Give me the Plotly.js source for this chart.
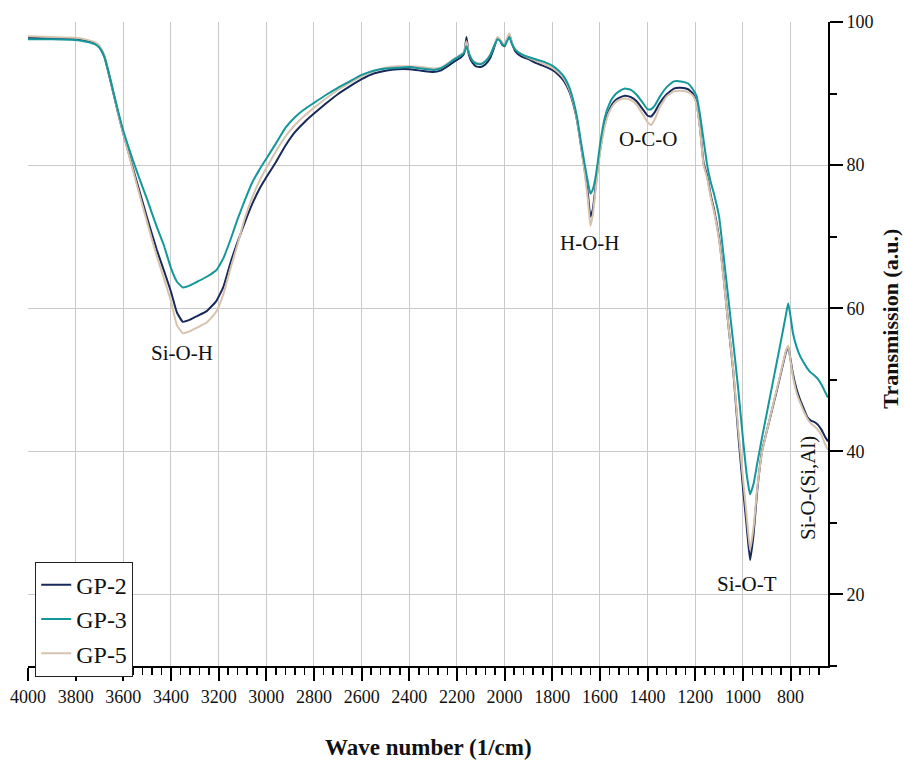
<!DOCTYPE html>
<html>
<head>
<meta charset="utf-8">
<script src="https://cdn.plot.ly/plotly-3.0.1.min.js"></script>
<style>
  html, body { margin: 0; padding: 0; background: #fff; }
  #chart { width: 904px; height: 761px; }
</style>
</head>
<body>
<div id="chart"></div>
<script>
// FTIR spectra of geopolymer samples: wavenumber (1/cm) vs transmission (a.u.)
const wavenumber = [
  4000, 3900, 3800, 3750, 3720, 3700, 3680, 3660, 3640, 3620, 3600, 3560, 3530, 3500,
  3460, 3430, 3400, 3375, 3350, 3320, 3290, 3250, 3210, 3180, 3150, 3120, 3090, 3060,
  3030, 3000, 2960, 2920, 2880, 2840, 2800, 2750, 2700, 2650, 2600, 2550, 2500, 2450,
  2400, 2350, 2300, 2270, 2240, 2210, 2185, 2170, 2160, 2150, 2135, 2120, 2100, 2080,
  2060, 2045, 2030, 2020, 2010, 2000, 1990, 1980, 1970, 1955, 1930, 1900, 1870, 1840,
  1800, 1770, 1750, 1730, 1710, 1695, 1680, 1665, 1650, 1640, 1630, 1620, 1610, 1600,
  1580, 1560, 1540, 1520, 1495, 1470, 1445, 1420, 1400, 1385, 1370, 1350, 1320, 1290,
  1260, 1230, 1210, 1195, 1180, 1165, 1150, 1135, 1120, 1100, 1080, 1060, 1040, 1020,
  1000, 985, 970, 955, 940, 920, 900, 880, 860, 840, 820, 810, 800, 790,
  775, 760, 745, 730, 715, 700, 685, 670, 655, 643
];

const gp2 = [
  97.8, 97.7, 97.6, 97.3, 97.0, 96.5, 95.2, 92.6, 89.8, 87.0, 84.4, 79.6, 76.1, 72.6,
  68.2, 65.3, 62.3, 59.4, 58.1, 58.4, 58.9, 59.6, 61.0, 63.0, 66.4, 69.3, 72.0, 74.5,
  76.6, 78.3, 80.4, 82.7, 84.6, 86.0, 87.2, 88.6, 89.9, 91.0, 92.0, 92.8, 93.2, 93.4,
  93.4, 93.2, 93.0, 93.2, 93.8, 94.5, 95.0, 95.6, 97.9, 95.4, 94.3, 93.8, 93.7, 94.1,
  95.0, 96.3, 97.8, 97.5, 96.8, 96.6, 97.5, 98.3, 97.1, 95.9, 95.2, 94.8, 94.3, 93.9,
  93.3, 92.5, 91.7, 90.4, 88.3, 86.0, 82.8, 79.5, 75.8, 72.8, 73.8, 76.5, 79.4, 82.0,
  85.7, 87.8, 88.9, 89.4, 89.7, 89.5, 88.9, 87.8, 86.9, 86.8, 87.4, 88.6, 89.9, 90.7,
  90.8, 90.6, 90.0, 88.7, 85.2, 80.3, 78.5, 75.8, 73.6, 69.8, 64.0, 57.3, 51.0, 42.5,
  35.0, 29.8, 24.8, 28.5, 34.5, 40.0, 42.8, 45.5, 48.2, 51.0, 53.8, 54.6, 52.8, 50.8,
  48.7, 47.2, 46.0, 44.8, 44.3, 44.1, 43.7, 43.0, 42.0, 41.4
];

const gp3 = [
  97.6, 97.6, 97.5, 97.2, 96.9, 96.4, 95.2, 92.8, 90.0, 87.3, 84.8, 80.7, 77.9, 75.2,
  71.4, 68.8, 65.6, 63.7, 62.9, 63.2, 63.7, 64.4, 65.3, 67.0, 69.6, 72.5, 75.1, 77.5,
  79.3, 80.9, 83.0, 85.2, 86.7, 87.8, 88.7, 89.8, 90.8, 91.7, 92.6, 93.2, 93.5, 93.6,
  93.7, 93.5, 93.3, 93.5, 94.1, 94.8, 95.3, 95.7, 96.6, 95.6, 94.6, 94.2, 94.1, 94.5,
  95.4, 96.6, 97.6, 97.4, 96.9, 96.7, 97.3, 97.9, 97.0, 96.1, 95.5, 95.1, 94.8, 94.5,
  93.9, 93.1, 92.3, 91.0, 88.8, 86.5, 83.3, 80.3, 77.5, 76.0, 76.6, 78.0, 80.2, 82.8,
  86.6, 88.6, 89.7, 90.3, 90.7, 90.5, 89.8, 88.7, 87.8, 87.8, 88.3, 89.5, 90.9, 91.7,
  91.7, 91.4, 90.6, 89.7, 87.0, 83.5, 80.0, 77.6, 75.8, 72.8, 67.0, 61.0, 55.0, 48.8,
  41.8, 37.0, 34.0, 35.5, 38.3, 41.9, 45.3, 48.7, 52.1, 55.5, 59.0, 60.7, 58.8, 56.5,
  54.6, 53.3, 52.4, 51.6, 51.0, 50.6, 50.1, 49.3, 48.3, 47.5
];

const gp5 = [
  98.0, 97.9, 97.8, 97.5, 97.2, 96.7, 95.4, 92.8, 89.9, 87.0, 84.4, 79.3, 75.6, 72.0,
  67.3, 64.2, 61.0, 57.6, 56.5, 56.8, 57.3, 58.0, 59.5, 62.0, 65.6, 69.0, 72.6, 75.4,
  77.7, 79.6, 81.9, 84.0, 85.6, 86.9, 88.0, 89.3, 90.5, 91.5, 92.4, 93.1, 93.6, 93.8,
  93.8, 93.7, 93.5, 93.6, 94.2, 94.9, 95.4, 95.8, 97.3, 95.7, 94.7, 94.3, 94.2, 94.6,
  95.5, 96.6, 97.9, 97.6, 97.1, 96.9, 97.7, 98.4, 97.2, 96.2, 95.5, 95.0, 94.6, 94.2,
  93.6, 92.8, 92.0, 90.7, 88.5, 86.1, 82.8, 79.2, 75.0, 71.5, 73.0, 76.0, 79.0, 81.6,
  85.4, 87.5, 88.6, 89.1, 89.3, 89.1, 88.4, 87.1, 86.0, 85.6, 86.4, 88.0, 89.6, 90.3,
  90.4, 90.2, 89.7, 88.5, 85.0, 80.0, 78.2, 75.5, 73.3, 69.5, 63.8, 57.3, 51.2, 43.2,
  36.3, 31.2, 26.2, 29.5, 34.8, 39.8, 42.8, 45.6, 48.4, 51.2, 54.0, 54.8, 52.6, 50.4,
  48.2, 46.8, 45.6, 44.6, 43.9, 43.5, 43.0, 42.2, 41.0, 40.2
];

const seriesNames = ['GP-2', 'GP-3', 'GP-5'];
const seriesColors = ['#17295a', '#14979a', '#d6c2ad'];

// Band assignments written on the spectrum
const bandLabels = ['Si-O-H', 'H-O-H', 'O-C-O', 'Si-O-T', 'Si-O-(Si,Al)'];
const bandX = [3355, 1642, 1400, 983, 726];
const bandY = [53.7, 69.1, 83.7, 21.5, 34.9];
const bandAngle = [0, 0, 0, 0, -90];

const xTickVals = [4000, 3800, 3600, 3400, 3200, 3000, 2800, 2600, 2400, 2200, 2000, 1800, 1600, 1400, 1200, 1000, 800];
const yTickVals = [20, 40, 60, 80, 100];

const serif = 'Liberation Serif';

// Draw order: GP-2 underneath, GP-5 over it, GP-3 on top; legend keeps GP-2, GP-3, GP-5
const drawOrder = [0, 2, 1];
const ys = [gp2, gp3, gp5];
const traces = drawOrder.map(i => ({
  type: 'scatter',
  mode: 'lines',
  x: wavenumber,
  y: ys[i],
  name: seriesNames[i],
  legendrank: i + 1,
  line: { color: seriesColors[i], width: 2, shape: 'spline', smoothing: 0.4 },
  hoverinfo: 'x+y+name'
}));

const annotations = bandLabels.map((t, i) => ({
  x: bandX[i], y: bandY[i], xref: 'x', yref: 'y',
  text: t, showarrow: false, textangle: bandAngle[i],
  xanchor: 'center', yanchor: 'middle',
  font: { family: serif, size: 21, color: '#111' }
}));

annotations.push({
  text: '<b>Transmission (a.u.)</b>', xref: 'paper', yref: 'paper',
  x: 1.078, y: 0.54, xanchor: 'center', yanchor: 'middle',
  textangle: -90, showarrow: false,
  font: { family: serif, size: 22, color: '#111' }
});
annotations.push({
  text: '<b>Wave number (1/cm)</b>', xref: 'paper', yref: 'paper',
  x: 0.5, y: -0.127, xanchor: 'center', yanchor: 'middle',
  showarrow: false,
  font: { family: serif, size: 23, color: '#111' }
});

const layout = {
  width: 904,
  height: 761,
  margin: { l: 28, r: 76, t: 22, b: 95, pad: 0 },
  paper_bgcolor: '#ffffff',
  plot_bgcolor: '#ffffff',
  font: { family: serif, color: '#111' },
  showlegend: true,
  legend: {
    x: 0.009, y: 0.162, xanchor: 'left', yanchor: 'top',
    bgcolor: '#ffffff', bordercolor: '#222', borderwidth: 1,
    font: { family: serif, size: 24, color: '#111' },
    tracegroupgap: 0, itemwidth: 30
  },
  xaxis: {
    range: [4000, 643],
    tickmode: 'array',
    tickvals: xTickVals,
    ticks: 'outside', ticklen: 13, tickwidth: 2, tickcolor: '#000',
    minor: { dtick: 40, tick0: 0, ticks: 'outside', ticklen: 7, tickwidth: 1.5, tickcolor: '#000', showgrid: false },
    showline: true, linecolor: '#000', linewidth: 2,
    showgrid: true, gridcolor: '#c9c9c9', gridwidth: 1,
    zeroline: false,
    tickfont: { family: serif, size: 18, color: '#111' }
  },
  yaxis: {
    side: 'right',
    range: [10, 100],
    tickmode: 'array',
    tickvals: yTickVals,
    ticks: 'outside', ticklen: 13, tickwidth: 2, tickcolor: '#000',
    minor: { dtick: 10, tick0: 0, ticks: 'outside', ticklen: 7, tickwidth: 2, tickcolor: '#000', showgrid: false },
    showline: true, linecolor: '#000', linewidth: 2,
    showgrid: true, gridcolor: '#c9c9c9', gridwidth: 1,
    zeroline: false,
    tickfont: { family: serif, size: 18, color: '#111' }
  },
  annotations: annotations
};

Plotly.newPlot('chart', traces, layout, { displayModeBar: false, staticPlot: true });
</script>
</body>
</html>
